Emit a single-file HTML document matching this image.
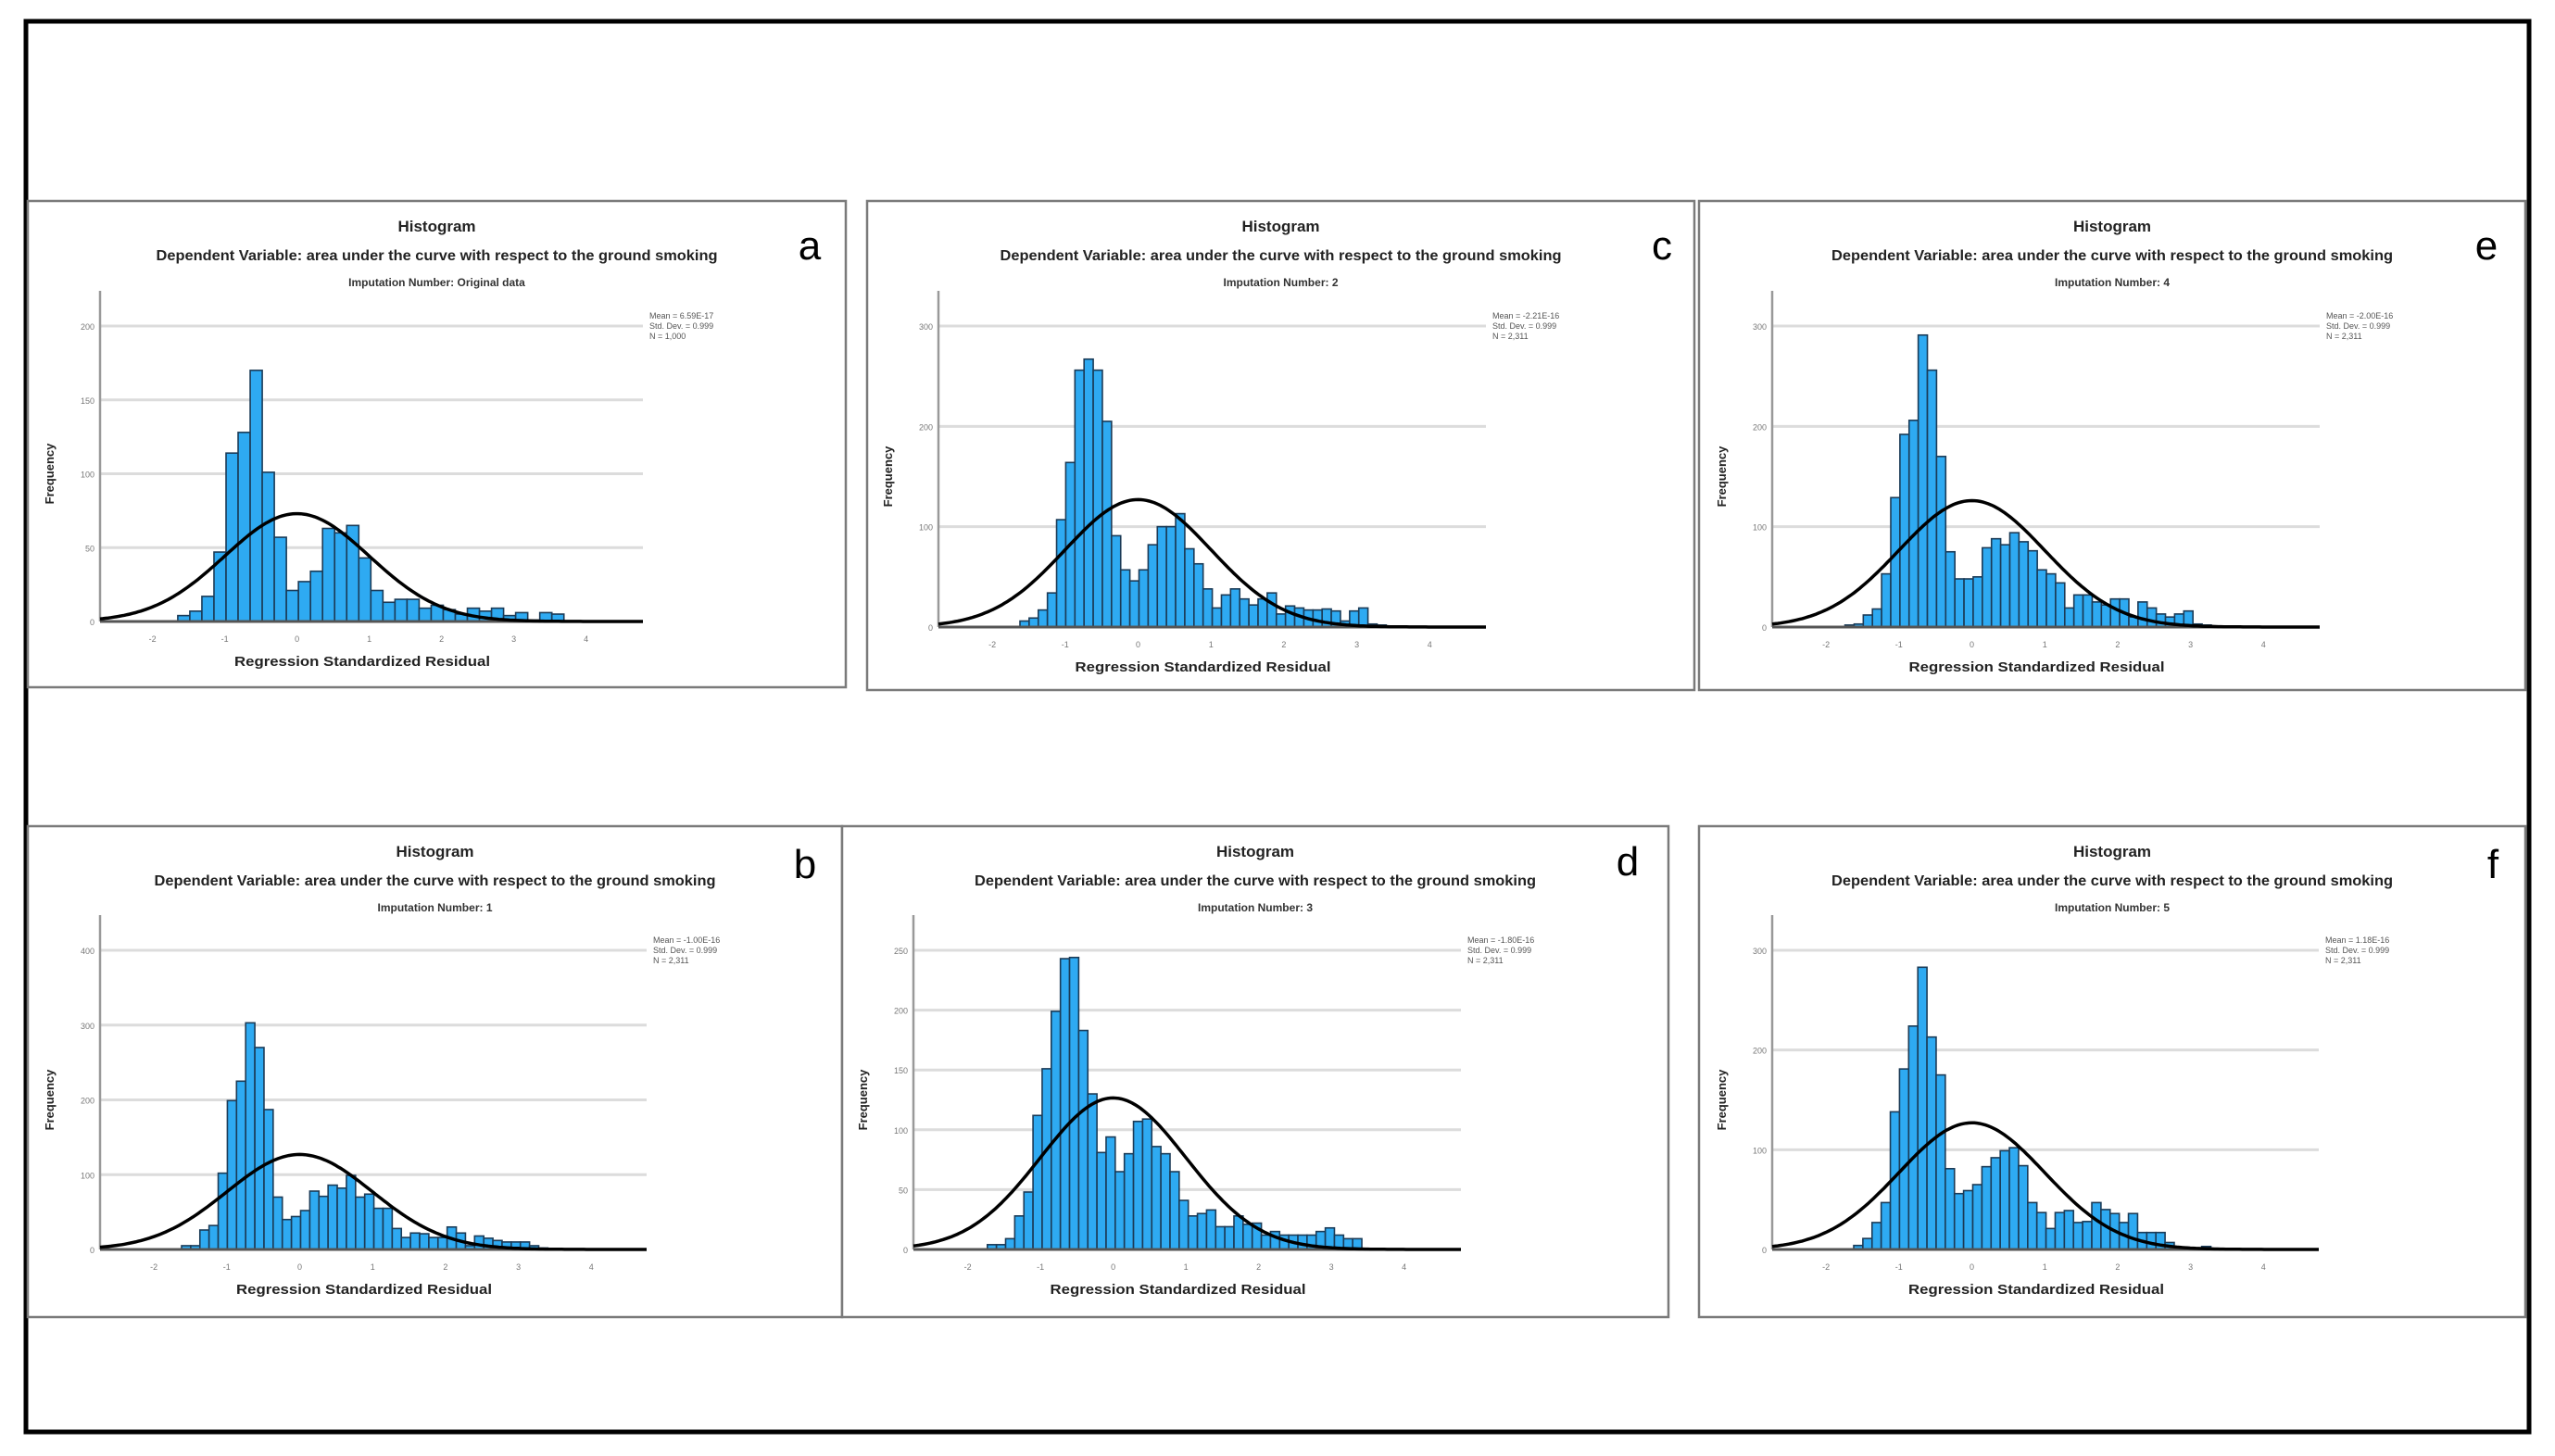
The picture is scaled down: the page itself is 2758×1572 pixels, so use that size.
<!DOCTYPE html>
<html><head><meta charset="utf-8">
<style>
html,body{margin:0;padding:0;background:#fff;}
svg{display:block;font-family:"Liberation Sans",sans-serif;}
</style></head>
<body>
<svg id="fig" width="2758" height="1572" viewBox="0 0 2758 1572" xmlns="http://www.w3.org/2000/svg">
<rect x="0" y="0" width="2758" height="1572" fill="#fff"/>
<rect x="28" y="23" width="2702" height="1523" fill="none" stroke="#000" stroke-width="5"/>
<g id="panels"></g>
</svg>
<script>
// ---- data (bin counts) ----
const countsA = [4,7,17,47,114,128,170,101,57,21,27,34,63,60,65,43,21,13,15,15,9,11,8,5,9,7,9,4,6,1,6,5];
const countsC = [6,9,17,34,107,164,256,267,256,205,91,57,46,57,82,100,100,113,78,63,38,19,32,38,28,22,28,34,13,21,19,17,17,18,16,6,16,19,3,2];
const countsE = [2,3,12,18,53,129,192,206,291,256,170,75,48,48,50,79,88,82,94,85,76,57,53,44,19,32,32,25,22,28,28,10,25,19,13,10,13,16,3,2];
const countsB = [5,5,26,32,102,199,225,303,270,187,70,40,44,52,78,71,86,82,99,70,74,55,55,28,16,22,21,16,16,30,22,5,18,15,12,10,10,10,5,2];
const countsD = [4,4,9,28,48,112,151,199,243,244,183,130,81,94,65,80,107,109,86,80,65,41,28,30,33,19,19,28,21,22,12,15,12,12,12,12,15,18,12,9,9];
const countsF = [4,11,27,47,138,181,224,283,213,175,81,56,59,65,83,92,99,102,84,47,37,21,37,39,27,28,47,40,36,27,36,17,17,17,7,2,1,1,3];
const binStarts = [-1.65,-1.62,-1.74,-1.62,-1.73,-1.62];
const binWidths = [0.167,0.1256,0.1256,0.1256,0.1256,0.1256];
const curvePeaks = [73,127,126,127,126.6,127];
const yTicksA = [0,50,100,150,200];
const yTicksC = [0,100,200,300];
const yTicksB = [0,100,200,300,400];
const yTicksD = [0,50,100,150,200,250];
const xTicks = [-2,-1,0,1,2,3,4];
const letters = ["a","c","e","b","d","f"];
const imputations = ["Imputation Number: Original data","Imputation Number: 2","Imputation Number: 4","Imputation Number: 1","Imputation Number: 3","Imputation Number: 5"];
const means = ["Mean = 6.59E-17","Mean = -2.21E-16","Mean = -2.00E-16","Mean = -1.00E-16","Mean = -1.80E-16","Mean = 1.18E-16"];
const ns = ["N = 1,000","N = 2,311","N = 2,311","N = 2,311","N = 2,311","N = 2,311"];

// ---- layout ----
const panelsLayout = [
 {box:[30,217,913,742], L:108,R:694,zeroY:671,topY:352,x0:320.6,unit:78.0, counts:countsA, ticks:yTicksA, letter:[874,280]},
 {box:[936,217,1829,745], L:1013,R:1604,zeroY:677,topY:352,x0:1228.5,unit:78.7, counts:countsC, ticks:yTicksC, letter:[1794,280]},
 {box:[1834,217,2726,745], L:1913,R:2504,zeroY:677,topY:352,x0:2128.5,unit:78.7, counts:countsE, ticks:yTicksC, letter:[2684,280]},
 {box:[30,892,909,1422], L:108,R:698,zeroY:1349,topY:1026,x0:323.5,unit:78.7, counts:countsB, ticks:yTicksB, letter:[869,948]},
 {box:[909,892,1801,1422], L:986,R:1577,zeroY:1349,topY:1026,x0:1201.6,unit:78.5, counts:countsD, ticks:yTicksD, letter:[1757,945]},
 {box:[1834,892,2726,1422], L:1913,R:2503,zeroY:1349,topY:1026,x0:2128.5,unit:78.7, counts:countsF, ticks:yTicksC, letter:[2691,948]}
];
const NS="http://www.w3.org/2000/svg";
const root=document.getElementById('panels');
function mk(tag,attrs,parent){const e=document.createElementNS(NS,tag);for(const k in attrs)e.setAttribute(k,attrs[k]);parent.appendChild(e);return e;}

panelsLayout.forEach((p,i)=>{
  const g=mk('g',{},root);
  
  
  const [bx0,by0,bx1,by1]=p.box;
  const fr=mk('rect',{x:bx0,y:by0,width:bx1-bx0,height:by1-by0,fill:'#fff',stroke:'#7a7a7a','stroke-width':2.5},g);
  
  
  const cx=(bx0+bx1)/2;
  const maxTick=p.ticks[p.ticks.length-1];
  const ys=v=>p.zeroY-(v/maxTick)*(p.zeroY-p.topY);
  const xs=v=>p.x0+v*p.unit;
  // titles
  const t1=mk('text',{x:cx,y:by0+33,'text-anchor':'middle','font-size':17,'font-weight':'bold',fill:'#222'},g);
  t1.textContent='Histogram';
  
  
  const t2=mk('text',{x:cx,y:by0+64,'text-anchor':'middle','font-size':16,'font-weight':'bold',fill:'#222',textLength:606,lengthAdjust:'spacingAndGlyphs'},g);
  t2.textContent='Dependent Variable: area under the curve with respect to the ground smoking';
  
  
  const t3=mk('text',{x:cx,y:by0+92,'text-anchor':'middle','font-size':12,'font-weight':'bold',fill:'#333'},g);
  t3.textContent=imputations[i];
  
  
  const lt=mk('text',{x:p.letter[0],y:p.letter[1],'text-anchor':'middle','font-size':44,fill:'#000'},g);
  lt.textContent=letters[i];
  
  
  // gridlines & y ticks
  p.ticks.forEach(v=>{
    if(v>0){const gl=mk('line',{x1:p.L,x2:p.R,y1:ys(v),y2:ys(v),stroke:'#dcdcdc','stroke-width':3},g);
      
      }
    const tl=mk('text',{x:p.L-6,y:ys(v)+4,'text-anchor':'end','font-size':9,fill:'#777'},g);
    tl.textContent=v;
    
    
  });
  // y axis
  const ya=mk('line',{x1:p.L,x2:p.L,y1:p.topY-38,y2:p.zeroY,stroke:'#999','stroke-width':2.5},g);
  
  
  // bars
  const bw=binWidths[i];
  p.counts.forEach((c,k)=>{
    const x1=xs(binStarts[i]+k*bw), x2=xs(binStarts[i]+(k+1)*bw);
    const r=mk('rect',{x:x1,y:ys(c),width:x2-x1,height:p.zeroY-ys(c),fill:'#2eaaf2',stroke:'#1b3b57','stroke-width':1.6},g);
    
    
  });
  // x axis baseline
  const xa=mk('line',{x1:p.L,x2:p.R,y1:p.zeroY,y2:p.zeroY,stroke:'#555','stroke-width':3},g);
  
  
  // normal curve
  let d='';
  const vmin=(p.L-p.x0)/p.unit, vmax=(p.R-p.x0)/p.unit;
  for(let s=0;s<=200;s++){const v=vmin+(vmax-vmin)*s/200;const f=curvePeaks[i]*Math.exp(-v*v/2);d+=(s?'L':'M')+xs(v).toFixed(1)+','+ys(f).toFixed(1);}
  const cv=mk('path',{d:d,fill:'none',stroke:'#000','stroke-width':3.5},g);
  
  
  // x ticks
  xTicks.forEach(v=>{
    const tl=mk('text',{x:xs(v),y:p.zeroY+22,'text-anchor':'middle','font-size':9,fill:'#777'},g);
    tl.textContent=v;
    
    
  });
  const xl=mk('text',{x:(p.L+p.R)/2-10,y:p.zeroY+48,'text-anchor':'middle','font-size':15,'font-weight':'bold',fill:'#222',textLength:276,lengthAdjust:'spacingAndGlyphs'},g);
  xl.textContent='Regression Standardized Residual';
  
  
  const yl=mk('text',{x:0,y:0,'text-anchor':'middle','font-size':13,'font-weight':'bold',fill:'#222',transform:'translate('+(p.L-50)+','+((p.topY+p.zeroY)/2)+') rotate(-90)'},g);
  yl.textContent='Frequency';
  
  
  // legend
  [means[i],'Std. Dev. = 0.999',ns[i]].forEach((s,k)=>{
    const lg=mk('text',{x:p.R+7,y:p.topY-8+k*11,'font-size':9,fill:'#555'},g);
    lg.textContent=s;
    
    
  });
});
</script>
</body></html>
